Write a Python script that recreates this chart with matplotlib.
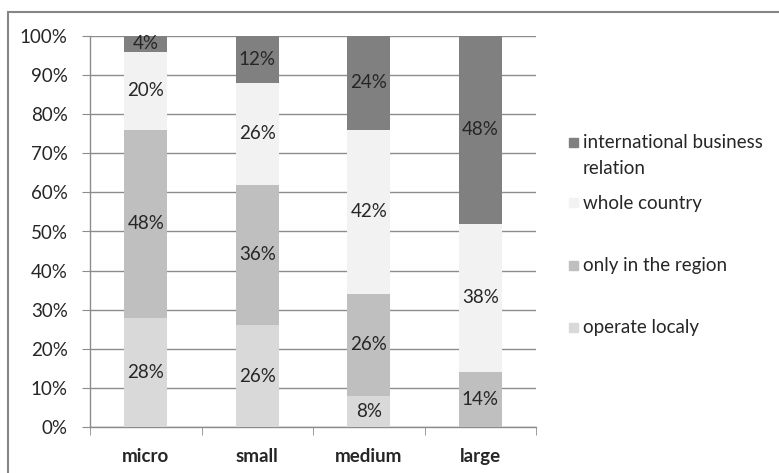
import matplotlib
matplotlib.use("Agg")
import matplotlib.pyplot as plt
import matplotlib.patches as mpatches
import numpy as np

plt.rcParams["font.family"] = ["Lato", "DejaVu Sans"]

CATEGORIES = ["micro", "small", "medium", "large"]
SERIES = ["operate localy", "only in the region", "whole country",
          "international business\nrelation"]
LOCAL = [28, 26, 8, 0]
REGION = [48, 36, 26, 14]
COUNTRY = [20, 26, 42, 38]
INTERNATIONAL = [4, 12, 24, 48]
COLORS = ["#d9d9d9", "#bfbfbf", "#f2f2f2", "#808080"]
TEXT = "#262626"
GRID = "#8c8c8c"
FS = 13.5

fig = plt.figure(figsize=(7.79, 4.73), dpi=100)
ax = fig.add_axes([90 / 779, 46 / 473, 446 / 779, 391 / 473])

x = np.arange(len(CATEGORIES))
bottom = np.zeros(len(CATEGORIES))
for vals, color in zip([LOCAL, REGION, COUNTRY, INTERNATIONAL], COLORS):
    vals = np.array(vals, dtype=float)
    ax.bar(x, vals, 0.39, bottom=bottom, color=color, zorder=3)
    for xi, b, v in zip(x, bottom, vals):
        if v > 0:
            ax.text(xi, b + v / 2, f"{v:.0f}%", ha="center", va="center",
                    fontsize=FS, color=TEXT, zorder=4)
    bottom += vals

ax.set_xlim(-0.5, len(CATEGORIES) - 0.5)
ax.set_ylim(0, 100)
ax.set_yticks(np.arange(0, 101, 10))
ax.set_yticklabels([f"{t}%" for t in range(0, 101, 10)], fontsize=FS, color=TEXT)
ax.set_xticks(x)
ax.set_xticklabels(CATEGORIES, fontsize=FS, fontweight="bold", color=TEXT)
ax.tick_params(axis="x", length=0, pad=15)
ax.tick_params(axis="y", length=6, color=GRID, pad=10)
ax.set_xticks(np.arange(-0.5, len(CATEGORIES)), minor=True)
ax.tick_params(axis="x", which="minor", length=6, color=GRID, direction="out")

ax.yaxis.grid(True, color=GRID, lw=1.0, zorder=0)
for side in ["top", "right"]:
    ax.spines[side].set_visible(False)
for side in ["left", "bottom"]:
    ax.spines[side].set_color(GRID)
    ax.spines[side].set_linewidth(1.0)

# legend drawn by hand, top entry first: (series index, y of first text line)
legend_rows = [(3, 142), (2, 203), (1, 265), (0, 327)]
for idx, y_line in legend_rows:
    fig.patches.append(mpatches.Rectangle((569 / 779, 1 - (y_line + 4.5) / 473),
                                          9 / 779, 9 / 473, color=COLORS[idx],
                                          transform=fig.transFigure))
    fig.text(583 / 779, 1 - (y_line - 8) / 473, SERIES[idx], fontsize=FS,
             color=TEXT, va="top", linespacing=1.65)

# chart frame
fig.patches.append(mpatches.Rectangle((8 / 779, -0.1), 1.0, 1 - 12 / 473 + 0.1,
                                      fill=False, edgecolor="#868686", lw=1.5,
                                      transform=fig.transFigure))

fig.savefig("out.png", dpi=100)
